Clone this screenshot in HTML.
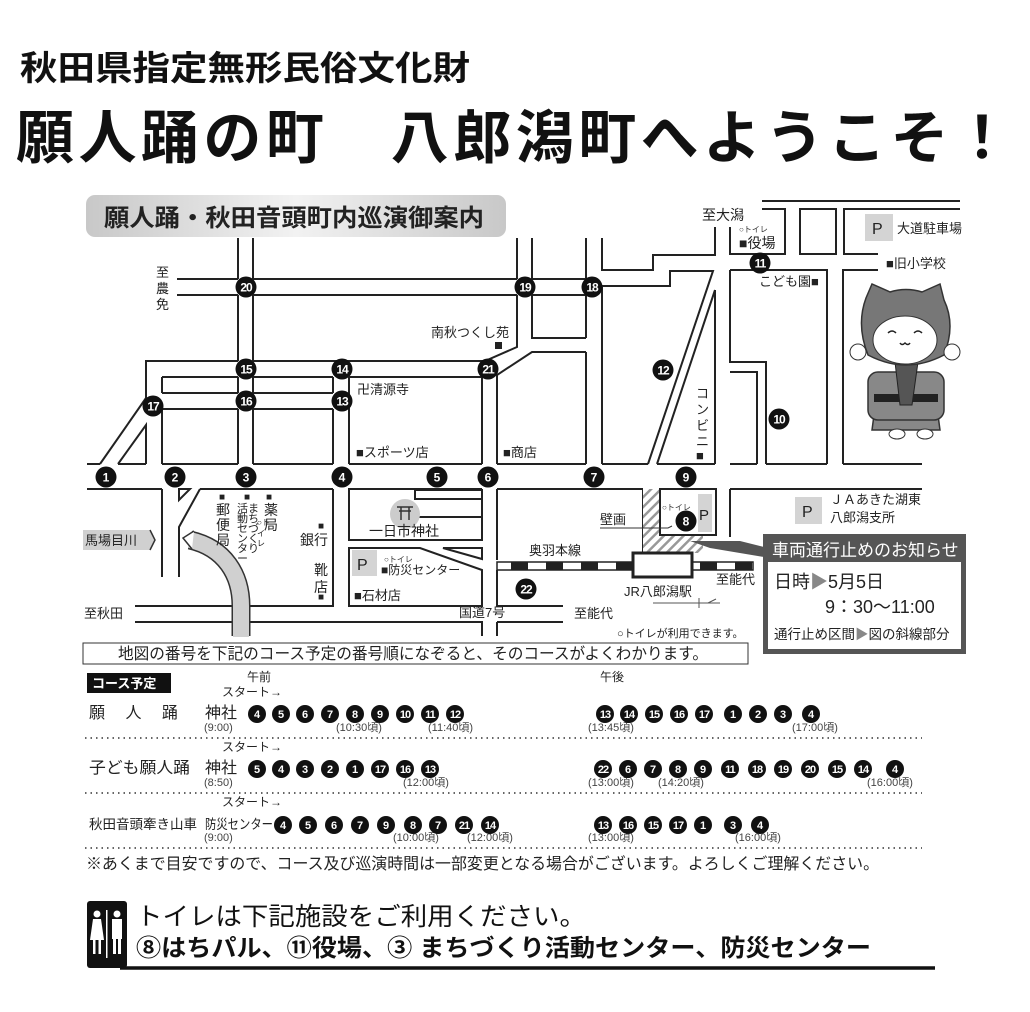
<!DOCTYPE html>
<html><head><meta charset="utf-8"><style>
html,body{margin:0;padding:0;background:#fff;}
svg{display:block;font-family:"Liberation Sans","Noto Sans CJK JP",sans-serif;}
.r{fill:none;stroke:#222;stroke-width:2;}
.c circle{fill:#111;}
.c text{fill:#fff;font-weight:bold;font-size:12px;text-anchor:middle;}
.t text{fill:#fff;font-weight:bold;font-size:11px;text-anchor:middle;}
.t circle{fill:#111;}
.m{font-size:13px;fill:#222;}
.s{font-size:8px;fill:#333;}
.tm{font-size:11px;fill:#444;}
</style></head><body>
<svg width="1030" height="1012" viewBox="0 0 1030 1012" xmlns="http://www.w3.org/2000/svg">
<defs>
<pattern id="h" width="7" height="7" patternUnits="userSpaceOnUse" patternTransform="rotate(45)">
<rect width="7" height="7" fill="#fff"/><rect width="2.5" height="7" fill="#999"/></pattern>
<linearGradient id="g" x1="0" y1="0" x2="1" y2="0"><stop offset="0" stop-color="#c8c8c8"/><stop offset="0.5" stop-color="#f2f2f2"/><stop offset="1" stop-color="#c8c8c8"/></linearGradient>
</defs>
<!-- header -->
<text x="20" y="80" font-size="34" font-weight="bold" fill="#111" textLength="450" lengthAdjust="spacingAndGlyphs">秋田県指定無形民俗文化財</text>
<text x="16" y="158" font-size="58" font-weight="bold" fill="#111" textLength="995">願人踊の町　八郎潟町へようこそ！</text>

<!-- banner -->
<rect x="86" y="195" width="420" height="42" rx="9" fill="url(#g)"/>
<text x="104" y="226" font-size="24" font-weight="bold" fill="#222" textLength="380" lengthAdjust="spacingAndGlyphs">願人踊・秋田音頭町内巡演御案内</text>

<!-- roads -->
<g class="r">
<path d="M177,279H238M253,279H517M532,279H586M177,295H238M253,295H517M532,295H586"/>
<path d="M238,238V279M238,295V361M238,377V393M238,409V464M253,238V279M253,295V361M253,377V393M253,409V464"/>
<path d="M517,238V279M532,238V279"/>
<path d="M333,377V393M333,409V464M349,377V464"/>
<path d="M146,398V361H238M253,361H485L517,347V295M146,398L100,464M118,464L146,425V464"/>
<path d="M162,377H238M253,377H333M349,377H482V464M162,377V393M162,409V464"/>
<path d="M532,295V338H586M497,464V375L532,352H586"/>
<path d="M162,393H238M253,393H333M162,409H238M253,409H333"/>
<path d="M87,464H100M118,464H146M162,464H238M253,464H333M349,464H482M497,464H586M602,464H648M657,464H715M730,464H757M766,464H827M843,464H922"/>
<path d="M87,489H162M200,489H333M179,489H190L179,500ZM349,489H482M497,489H643M730,489H922"/>
<path d="M586,238V279M586,295V338M586,352V464M602,238V270H653V255H715V227M602,286V464M602,286H670V271H713L648,464M715,290L657,464M715,290V464"/>
<path d="M730,227V254H785V209H762M762,201H960M800,209H836V254H800ZM960,209H844V254H878"/>
<path d="M730,270H827V464M766,464V362H730V270M730,372H757V464M878,270H843V464"/>
<path d="M162,489V577M179,577V527L200,489M333,489V606H135M135,622H482V636M497,622H563M497,622V636"/>
<path d="M400,489H349V540H482V489M482,517H415M415,490H482V499H415Z"/>
<path d="M349,548H420L482,570V606H349ZM443,548H482V559Z"/>
<path d="M497,489V560M497,570V606H563M643,489V553M730,489V537"/>
</g>
<rect x="643" y="489" width="60" height="64" fill="url(#h)"/>
<rect x="660" y="489" width="56" height="46" fill="#fff" stroke="#222" stroke-width="2"/>
<rect x="698" y="494" width="14" height="38" fill="#d4d4d4"/>
<text x="699" y="520" font-size="15" fill="#222">P</text>
<!-- rail -->
<rect x="497" y="562" width="256" height="8" fill="#fff" stroke="#222" stroke-width="1.5"/>
<g fill="#222"><rect x="511" y="562" width="17" height="8"/><rect x="546" y="562" width="17" height="8"/><rect x="581" y="562" width="17" height="8"/><rect x="616" y="562" width="17" height="8"/><rect x="700" y="562" width="17" height="8"/><rect x="735" y="562" width="17" height="8"/></g>
<rect x="633" y="553" width="59" height="24" fill="#fff" stroke="#222" stroke-width="3"/>
<path d="M653,603H720M699,598V608M708,603L716,599" stroke="#555" fill="none" stroke-width="1"/>

<!-- river -->
<path d="M190,540 C225,548 241,575 241,606 L241,636" stroke="#333" stroke-width="19" fill="none"/>
<path d="M190,540 C225,548 241,575 241,606 L241,637" stroke="#d0d0d0" stroke-width="16" fill="none"/>
<path d="M194,531 L183,538 L192,549" stroke="#333" fill="#fff" stroke-width="1.5"/>
<path d="M83,530H150L155,540L150,550H83Z" fill="#d0d0d0"/>
<path d="M150,530L155,540L150,550" stroke="#333" fill="none" stroke-width="1.5"/>
<text x="85" y="545" class="m" font-size="14">馬場目川</text>

<!-- shrine -->
<circle cx="405" cy="514" r="15" fill="#ccc"/>
<path d="M397,507H413M399,511H411M401,507V520M409,507V520" stroke="#333" stroke-width="1.5"/>
<text x="369" y="536" font-size="14" fill="#222">一日市神社</text>
<rect x="352" y="550" width="25" height="26" fill="#d4d4d4"/>
<text x="357" y="570" font-size="16" fill="#222">P</text>

<!-- labels -->
<g class="m">
<text x="156" y="277">至</text><text x="156" y="293">農</text><text x="156" y="309">免</text>
<text x="431" y="337">南秋つくし苑</text><rect x="495" y="342" width="7" height="7" fill="#222"/>
<text x="357" y="394">卍清源寺</text>
<text x="356" y="457">■スポーツ店</text>
<text x="503" y="457">■商店</text>
<text x="702" y="220" font-size="14">至大潟</text>
<text x="739" y="248" font-size="14">■役場</text>
<text x="897" y="233">大道駐車場</text>
<text x="886" y="268">■旧小学校</text>
<text x="759" y="286">こども園■</text>
<text x="696" y="398">コ</text><text x="696" y="414">ン</text><text x="696" y="430">ビ</text><text x="696" y="446">ニ</text>
<text x="696" y="460">■</text>
<text x="219" y="500" font-size="10">■</text><text x="244" y="500" font-size="10">■</text><text x="266" y="500" font-size="10">■</text>
<text x="216" y="515" font-size="14">郵</text><text x="216" y="530" font-size="14">便</text><text x="216" y="545" font-size="14">局</text>
<text x="248" y="512" font-size="11">ま</text><text x="248" y="522" font-size="11">ち</text><text x="248" y="532" font-size="11">づ</text><text x="248" y="542" font-size="11">く</text><text x="248" y="552" font-size="11">り</text>
<text x="237" y="512" font-size="11">活</text><text x="237" y="522" font-size="11">動</text><text x="237" y="532" font-size="11">セ</text><text x="237" y="542" font-size="11">ン</text><text x="237" y="552" font-size="11">タ</text><text x="237" y="562" font-size="11">ー</text>
<text x="257" y="525" font-size="8">○ト</text><text x="257" y="536" font-size="8">イ</text><text x="257" y="546" font-size="8">レ</text>
<text x="264" y="515" font-size="14">薬</text><text x="264" y="530" font-size="14">局</text>
<text x="318" y="529" font-size="10">■</text><text x="300" y="545" font-size="14">銀行</text>
<text x="314" y="575" font-size="14">靴</text><text x="314" y="592" font-size="14">店</text><text x="318" y="600" font-size="10">■</text>
<text x="381" y="574" font-size="12">■防災センター</text>
<text x="354" y="600">■石材店</text>
<text x="84" y="618">至秋田</text>
<text x="459" y="617">国道7号</text>
<text x="574" y="618">至能代</text>
<text x="716" y="584">至能代</text>
<text x="529" y="555">奥羽本線</text>
<text x="624" y="596">JR八郎潟駅</text>
<text x="600" y="524">壁画</text>
<text x="830" y="504">ＪＡあきた湖東</text>
<text x="830" y="522">八郎潟支所</text>
<text x="617" y="637" font-size="11">○トイレが利用できます。</text>
</g>
<path d="M600,528H668L672,526" stroke="#333" fill="none" stroke-width="1"/>
<g class="s"><text x="739" y="232">○トイレ</text><text x="384" y="562">○トイレ</text><text x="662" y="510">○トイレ</text></g>
<rect x="865" y="214" width="28" height="27" fill="#d4d4d4"/><text x="872" y="234" font-size="16" fill="#222">P</text>
<rect x="795" y="497" width="27" height="27" fill="#d4d4d4"/><text x="802" y="517" font-size="16" fill="#222">P</text>

<!-- callout -->
<path d="M690,541L740,541L764,547L764,557L710,548Z" fill="#555"/>
<rect x="763" y="534" width="203" height="120" fill="#555"/>
<rect x="768" y="562" width="193" height="87" fill="#fff"/>
<text x="772" y="556" font-size="17" fill="#fff">車両通行止めのお知らせ</text>
<text x="774" y="588" font-size="18" fill="#222">日時<tspan fill="#888">▶</tspan>5月5日</text>
<text x="825" y="613" font-size="18" fill="#222">9：30〜11:00</text>
<text x="774" y="639" font-size="13.5" fill="#222">通行止め区間<tspan fill="#888">▶</tspan>図の斜線部分</text>

<!-- map circles -->
<g class="c">
<g><circle cx="106" cy="477" r="10.5"/><text x="106" y="481.5">1</text></g>
<g><circle cx="175" cy="477" r="10.5"/><text x="175" y="481.5">2</text></g>
<g><circle cx="246" cy="477" r="10.5"/><text x="246" y="481.5">3</text></g>
<g><circle cx="342" cy="477" r="10.5"/><text x="342" y="481.5">4</text></g>
<g><circle cx="437" cy="477" r="10.5"/><text x="437" y="481.5">5</text></g>
<g><circle cx="488" cy="477" r="10.5"/><text x="488" y="481.5">6</text></g>
<g><circle cx="594" cy="477" r="10.5"/><text x="594" y="481.5">7</text></g>
<g><circle cx="686" cy="477" r="10.5"/><text x="686" y="481.5">9</text></g>
<g><circle cx="686" cy="521" r="10.5"/><text x="686" y="525.5">8</text></g>
<g><circle cx="246" cy="287" r="10.5"/><text x="246" y="291.5" letter-spacing="-1">20</text></g>
<g><circle cx="525" cy="287" r="10.5"/><text x="525" y="291.5" letter-spacing="-1">19</text></g>
<g><circle cx="592" cy="287" r="10.5"/><text x="592" y="291.5" letter-spacing="-1">18</text></g>
<g><circle cx="246" cy="369" r="10.5"/><text x="246" y="373.5" letter-spacing="-1">15</text></g>
<g><circle cx="342" cy="369" r="10.5"/><text x="342" y="373.5" letter-spacing="-1">14</text></g>
<g><circle cx="488" cy="369" r="10.5"/><text x="488" y="373.5" letter-spacing="-1">21</text></g>
<g><circle cx="246" cy="401" r="10.5"/><text x="246" y="405.5" letter-spacing="-1">16</text></g>
<g><circle cx="342" cy="401" r="10.5"/><text x="342" y="405.5" letter-spacing="-1">13</text></g>
<g><circle cx="153" cy="406" r="10.5"/><text x="153" y="410.5" letter-spacing="-1">17</text></g>
<g><circle cx="663" cy="370" r="10.5"/><text x="663" y="374.5" letter-spacing="-1">12</text></g>
<g><circle cx="779" cy="419" r="10.5"/><text x="779" y="423.5" letter-spacing="-1">10</text></g>
<g><circle cx="760" cy="263" r="10.5"/><text x="760" y="267.5" letter-spacing="-1">11</text></g>
<g><circle cx="526" cy="589" r="10.5"/><text x="526" y="593.5" letter-spacing="-1">22</text></g>
</g>

<!-- mascot -->
<g>
<path d="M876,400 L872,430 L940,430 L936,400 Z" fill="#888" stroke="#333" stroke-width="1.5"/>
<rect x="868" y="372" width="76" height="48" rx="10" fill="#888" stroke="#333" stroke-width="1.5"/>
<rect x="874" y="394" width="64" height="8" fill="#222"/>
<path d="M895,362 L918,362 L912,405 L900,405Z" fill="#555" stroke="#222"/>
<path d="M866,298 L872,284 L890,292 Q906,287 922,292 L940,284 L944,300 Q956,325 944,355 Q906,375 868,355 Q856,325 866,298Z" fill="#777" stroke="#333" stroke-width="1.5"/>
<ellipse cx="905" cy="340" rx="32" ry="24" fill="#fff" stroke="#333" stroke-width="1"/>
<path d="M888,333 q4,-4 8,0 M914,333 q4,-4 8,0 M900,343 q2,3 5,0 q3,3 5,0" stroke="#222" fill="none" stroke-width="1.5"/>
<circle cx="858" cy="352" r="8" fill="#fff" stroke="#333"/><circle cx="952" cy="352" r="8" fill="#fff" stroke="#333"/>
<ellipse cx="897" cy="434" rx="8" ry="5" fill="#fff" stroke="#333"/><ellipse cx="925" cy="434" rx="8" ry="5" fill="#fff" stroke="#333"/>
</g>

<!-- instruction -->
<rect x="83" y="643" width="665" height="21" fill="#fff" stroke="#333" stroke-width="1"/>
<text x="118" y="659" font-size="16" fill="#222" textLength="590" lengthAdjust="spacingAndGlyphs">地図の番号を下記のコース予定の番号順になぞると、そのコースがよくわかります。</text>

<!-- schedule -->
<rect x="87" y="673" width="84" height="20" fill="#111"/>
<text x="92" y="688" font-size="13" fill="#fff" font-weight="bold">コース予定</text>
<text x="247" y="681" font-size="12" fill="#222">午前</text>
<text x="600" y="681" font-size="12" fill="#222">午後</text>
<g font-size="12" fill="#222"><text x="222" y="696">スタート→</text><text x="222" y="751">スタート→</text><text x="222" y="806">スタート→</text></g>
<g font-size="16" fill="#222">
<text x="89" y="718">願　 人 　踊</text><text x="205" y="718">神社</text>
<text x="89" y="773" textLength="101" lengthAdjust="spacingAndGlyphs">子ども願人踊</text><text x="205" y="773">神社</text>
<text x="89" y="829" font-size="13.5">秋田音頭牽き山車</text><text x="205" y="829" font-size="13.5" textLength="68" lengthAdjust="spacingAndGlyphs">防災センター</text>
</g>
<g class="tm">
<text x="204" y="731">(9:00)</text><text x="336" y="731">(10:30頃)</text><text x="428" y="731">(11:40頃)</text>
<text x="588" y="731">(13:45頃)</text><text x="792" y="731">(17:00頃)</text>
<text x="204" y="786">(8:50)</text><text x="403" y="786">(12:00頃)</text>
<text x="588" y="786">(13:00頃)</text><text x="658" y="786">(14:20頃)</text><text x="867" y="786">(16:00頃)</text>
<text x="204" y="841">(9:00)</text><text x="393" y="841">(10:00頃)</text><text x="467" y="841">(12:00頃)</text>
<text x="588" y="841">(13:00頃)</text><text x="735" y="841">(16:00頃)</text>
</g>
<g stroke="#666" stroke-width="2" stroke-dasharray="1.5 4">
<path d="M85,738H922M85,793H922M85,848H922"/>
</g>
<g class="t">
<g><circle cx="257" cy="714" r="9"/><text x="257" y="718">4</text></g>
<g><circle cx="281" cy="714" r="9"/><text x="281" y="718">5</text></g>
<g><circle cx="305" cy="714" r="9"/><text x="305" y="718">6</text></g>
<g><circle cx="330" cy="714" r="9"/><text x="330" y="718">7</text></g>
<g><circle cx="355" cy="714" r="9"/><text x="355" y="718">8</text></g>
<g><circle cx="380" cy="714" r="9"/><text x="380" y="718">9</text></g>
<g><circle cx="405" cy="714" r="9"/><text x="405" y="718" letter-spacing="-1">10</text></g>
<g><circle cx="430" cy="714" r="9"/><text x="430" y="718" letter-spacing="-1">11</text></g>
<g><circle cx="455" cy="714" r="9"/><text x="455" y="718" letter-spacing="-1">12</text></g>
<g><circle cx="605" cy="714" r="9"/><text x="605" y="718" letter-spacing="-1">13</text></g>
<g><circle cx="629" cy="714" r="9"/><text x="629" y="718" letter-spacing="-1">14</text></g>
<g><circle cx="654" cy="714" r="9"/><text x="654" y="718" letter-spacing="-1">15</text></g>
<g><circle cx="679" cy="714" r="9"/><text x="679" y="718" letter-spacing="-1">16</text></g>
<g><circle cx="704" cy="714" r="9"/><text x="704" y="718" letter-spacing="-1">17</text></g>
<g><circle cx="733" cy="714" r="9"/><text x="733" y="718">1</text></g>
<g><circle cx="758" cy="714" r="9"/><text x="758" y="718">2</text></g>
<g><circle cx="783" cy="714" r="9"/><text x="783" y="718">3</text></g>
<g><circle cx="811" cy="714" r="9"/><text x="811" y="718">4</text></g>

<g><circle cx="257" cy="769" r="9"/><text x="257" y="773">5</text></g>
<g><circle cx="281" cy="769" r="9"/><text x="281" y="773">4</text></g>
<g><circle cx="305" cy="769" r="9"/><text x="305" y="773">3</text></g>
<g><circle cx="330" cy="769" r="9"/><text x="330" y="773">2</text></g>
<g><circle cx="355" cy="769" r="9"/><text x="355" y="773">1</text></g>
<g><circle cx="380" cy="769" r="9"/><text x="380" y="773" letter-spacing="-1">17</text></g>
<g><circle cx="405" cy="769" r="9"/><text x="405" y="773" letter-spacing="-1">16</text></g>
<g><circle cx="430" cy="769" r="9"/><text x="430" y="773" letter-spacing="-1">13</text></g>
<g><circle cx="603" cy="769" r="9"/><text x="603" y="773" letter-spacing="-1">22</text></g>
<g><circle cx="628" cy="769" r="9"/><text x="628" y="773">6</text></g>
<g><circle cx="653" cy="769" r="9"/><text x="653" y="773">7</text></g>
<g><circle cx="678" cy="769" r="9"/><text x="678" y="773">8</text></g>
<g><circle cx="703" cy="769" r="9"/><text x="703" y="773">9</text></g>
<g><circle cx="730" cy="769" r="9"/><text x="730" y="773" letter-spacing="-1">11</text></g>
<g><circle cx="757" cy="769" r="9"/><text x="757" y="773" letter-spacing="-1">18</text></g>
<g><circle cx="783" cy="769" r="9"/><text x="783" y="773" letter-spacing="-1">19</text></g>
<g><circle cx="810" cy="769" r="9"/><text x="810" y="773" letter-spacing="-1">20</text></g>
<g><circle cx="837" cy="769" r="9"/><text x="837" y="773" letter-spacing="-1">15</text></g>
<g><circle cx="863" cy="769" r="9"/><text x="863" y="773" letter-spacing="-1">14</text></g>
<g><circle cx="895" cy="769" r="9"/><text x="895" y="773">4</text></g>

<g><circle cx="283" cy="825" r="9"/><text x="283" y="829">4</text></g>
<g><circle cx="308" cy="825" r="9"/><text x="308" y="829">5</text></g>
<g><circle cx="334" cy="825" r="9"/><text x="334" y="829">6</text></g>
<g><circle cx="360" cy="825" r="9"/><text x="360" y="829">7</text></g>
<g><circle cx="386" cy="825" r="9"/><text x="386" y="829">9</text></g>
<g><circle cx="413" cy="825" r="9"/><text x="413" y="829">8</text></g>
<g><circle cx="438" cy="825" r="9"/><text x="438" y="829">7</text></g>
<g><circle cx="464" cy="825" r="9"/><text x="464" y="829" letter-spacing="-1">21</text></g>
<g><circle cx="490" cy="825" r="9"/><text x="490" y="829" letter-spacing="-1">14</text></g>
<g><circle cx="603" cy="825" r="9"/><text x="603" y="829" letter-spacing="-1">13</text></g>
<g><circle cx="628" cy="825" r="9"/><text x="628" y="829" letter-spacing="-1">16</text></g>
<g><circle cx="653" cy="825" r="9"/><text x="653" y="829" letter-spacing="-1">15</text></g>
<g><circle cx="678" cy="825" r="9"/><text x="678" y="829" letter-spacing="-1">17</text></g>
<g><circle cx="703" cy="825" r="9"/><text x="703" y="829">1</text></g>
<g><circle cx="733" cy="825" r="9"/><text x="733" y="829">3</text></g>
<g><circle cx="760" cy="825" r="9"/><text x="760" y="829">4</text></g>
</g>
<text x="86" y="869" font-size="16" fill="#222" textLength="793" lengthAdjust="spacingAndGlyphs">※あくまで目安ですので、コース及び巡演時間は一部変更となる場合がございます。よろしくご理解ください。</text>

<!-- toilet -->
<rect x="87" y="901" width="40" height="67" rx="3" fill="#111"/>
<g fill="#fff">
<circle cx="97" cy="914" r="3.5"/><path d="M93,919H101L104,940H90Z"/><rect x="93" y="940" width="2.5" height="14"/><rect x="98.5" y="940" width="2.5" height="14"/>
<rect x="106" y="910" width="1.5" height="48"/>
<circle cx="117" cy="914" r="3.5"/><rect x="112" y="919" width="10" height="20"/><rect x="113" y="939" width="3" height="15"/><rect x="118" y="939" width="3" height="15"/>
</g>
<path d="M120,968H935" stroke="#111" stroke-width="3.5"/>
<text x="136" y="925" font-size="25" fill="#111" textLength="450" lengthAdjust="spacingAndGlyphs">トイレは下記施設をご利用ください。</text>
<text x="136" y="956" font-size="24" font-weight="bold" fill="#111" textLength="735" lengthAdjust="spacingAndGlyphs">⑧はちパル、⑪役場、③ まちづくり活動センター、防災センター</text>
</svg>
</body></html>
